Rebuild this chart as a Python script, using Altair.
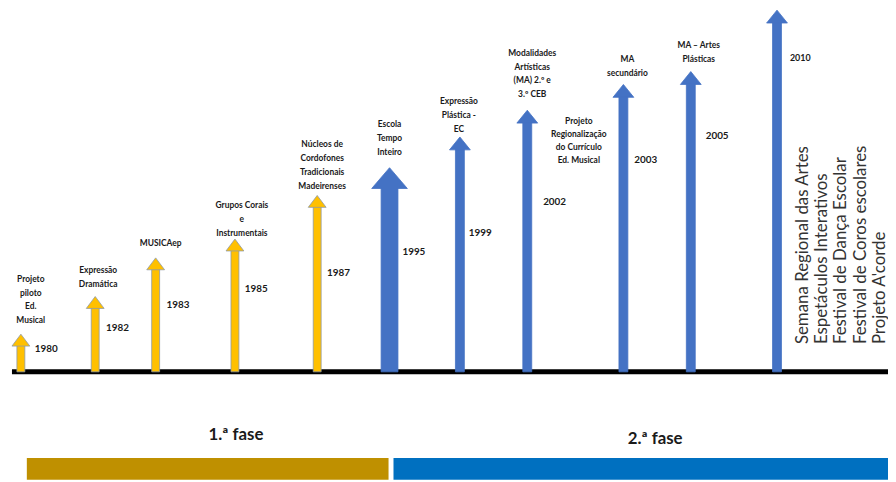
import altair as alt
import pandas as pd

# ---------------- data ----------------
years = ["1980", "1982", "1983", "1985", "1987", "1995", "1999", "2002", "2003", "2005", "2010"]
arrow_pos = [21, 96, 157, 237, 320, 393, 464, 532, 629, 697, 784]      # position along the timeline
arrow_top = [38, 76, 115, 134, 178, 206, 237, 264, 290, 303, 365]      # arrow height above the axis
arrow_kind = ["yellow"] * 5 + ["wide"] + ["blue"] * 5
year_label_pos = [35, 107, 168, 247, 330, 406, 473, 548, 640, 712, 797]
year_level = [23, 44, 67, 84, 100, 121, 140, 171, 214, 238, 317]

event_lines = [
    ["Projeto", "piloto", "Ed.", "Musical"],
    ["Expressão", "Dramática"],
    ["MUSICAep"],
    ["Grupos Corais", "e", "Instrumentais"],
    ["Núcleos de", "Cordofones", "Tradicionais", "Madeirenses"],
    ["Escola", "Tempo", "Inteiro"],
    ["Expressão", "Plástica -", "EC"],
    ["Modalidades", "Artísticas", "(MA) 2.º e", "3.º CEB"],
    ["MA", "secundário"],
    ["MA – Artes", "Plásticas"],
]
event_pos = [31, 99, 162, 244, 325, 393, 463, 537, 633, 705]
event_level = [94, 103, 130, 168, 230, 250, 273, 322, 316, 330]   # level of the first line

note_lines = ["Projeto", "Regionalização", "do Currículo", "Ed. Musical"]
note_pos = [584]
note_level = [253]

events_2010 = [
    "Semana Regional das Artes",
    "Espetáculos Interativos",
    "Festival de Dança Escolar",
    "Festival de Coros escolares",
    "Projeto A'corde",
]
events_2010_pos = [810]
events_2010_level = [28]

phases = ["1.ª fase", "2.ª fase"]
phase_start = [27, 397]
phase_end = [392, 896]
phase_label_pos = [238, 661]
phase_label_level = [-64, -68]

# ---------------- styles ----------------
kind_style = {
    "yellow": dict(color="#FFC000", stroke="#8E9AA6", shaft=8, head_w=18, head_h=12),
    "blue": dict(color="#4472C4", stroke="#4472C4", shaft=9, head_w=21, head_h=13),
    "wide": dict(color="#4472C4", stroke="#4472C4", shaft=17, head_w=36, head_h=21),
}

rows = []
for y, p, t, k, lx, yl in zip(years, arrow_pos, arrow_top, arrow_kind, year_label_pos, year_level):
    s = kind_style[k]
    h = s["head_h"] / s["head_w"]
    rows.append(dict(
        year=y, pos=p, top=t, kind=k,
        x0=p - s["shaft"] / 2, x1=p + s["shaft"] / 2,
        shaft_top=t - s["head_h"] + 1,
        head_c=t - s["head_h"] / 2,
        size=s["head_w"] ** 2,
        path=f"M0,{-h:.3f}L1,{h:.3f}L-1,{h:.3f}Z",
        fill=s["color"], stroke=s["stroke"],
        label_x=lx, label_y=yl,
        fs=9 if y == "2010" else 10,
    ))
arrows = pd.DataFrame(rows)

ev = pd.DataFrame(dict(text=["\n".join(l) for l in event_lines], pos=event_pos, level=event_level))
note = pd.DataFrame(dict(text=["\n".join(note_lines)], pos=note_pos, level=note_level))
rot = pd.DataFrame(dict(text=["\n".join(events_2010)], pos=events_2010_pos, level=events_2010_level))
ph = pd.DataFrame(dict(phase=phases, x0=phase_start, x1=phase_end, lx=phase_label_pos, ly=phase_label_level,
                       color=["#BF9000", "#0070C0"]))
axis_line = pd.DataFrame(dict(x0=[12], x1=[896], y=[0]))

W, H = 888, 474
xs = alt.Scale(domain=[8, 896], range=[0, W])
ys = alt.Scale(domain=[-109, 365], range=[H, 0])


def X(f):
    return alt.X(f, type="quantitative", scale=xs, axis=None)


def Y(f):
    return alt.Y(f, type="quantitative", scale=ys, axis=None)


FONT = "Lato"

phase_bars = alt.Chart(ph).mark_rect().encode(
    x=X("x0"), x2="x1", y=alt.value(H - 22), y2=alt.value(H),
    color=alt.Color("color:N", scale=None),
)
phase_text = alt.Chart(ph).mark_text(font=FONT, fontSize=17, fontWeight="bold", color="#1a1a1a",
                                     baseline="middle", align="center").encode(
    x=X("lx"), y=Y("ly"), text="phase:N")

baseline = alt.Chart(axis_line).mark_rule(color="#000000", strokeWidth=5).encode(
    x=X("x0"), x2="x1", y=Y("y"))

shafts = alt.Chart(arrows).mark_rect(strokeWidth=0.8).encode(
    x=X("x0"), x2="x1", y=Y("shaft_top"), y2=alt.Y2(datum=0),
    color=alt.Color("fill:N", scale=None),
    stroke=alt.Stroke("stroke:N", scale=None),
)
heads = alt.Chart(arrows).mark_point(filled=True, opacity=1, strokeWidth=0.8).encode(
    x=X("pos"), y=Y("head_c"),
    shape=alt.Shape("path:N", scale=None),
    size=alt.Size("size:Q", scale=None),
    fill=alt.Fill("fill:N", scale=None),
    stroke=alt.Stroke("stroke:N", scale=None),
)
year_text = alt.Chart(arrows).mark_text(font=FONT, fontWeight="bold", color="#1a1a1a",
                                        align="left", baseline="middle").encode(
    x=X("label_x"), y=Y("label_y"), text="year:N",
    size=alt.Size("fs:Q", scale=None))

event_text = alt.Chart(ev).mark_text(font=FONT, fontSize=8.5, fontWeight="bold", color="#1a1a1a",
                                     align="center", baseline="middle", lineBreak="\n", lineHeight=14).encode(
    x=X("pos"), y=Y("level"), text="text:N")
note_text = alt.Chart(note).mark_text(font=FONT, fontSize=8.5, fontWeight="bold", color="#1a1a1a",
                                      align="center", baseline="middle", lineBreak="\n", lineHeight=13).encode(
    x=X("pos"), y=Y("level"), text="text:N")
rot_text = alt.Chart(rot).mark_text(font=FONT, fontSize=17, color="#333333", angle=270,
                                    align="left", baseline="middle", lineBreak="\n", lineHeight=19.5).encode(
    x=X("pos"), y=Y("level"), text="text:N")

chart = alt.layer(
    phase_bars, phase_text, baseline, shafts, heads, year_text, event_text, note_text, rot_text
).properties(width=W, height=H, padding=0, autosize="none").configure_view(stroke=None)

chart.save("out.html", embed_options={"renderer": "svg", "actions": False})
